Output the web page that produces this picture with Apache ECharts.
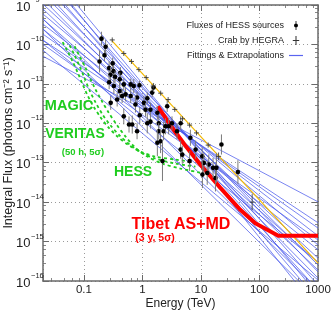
<!DOCTYPE html>
<html><head><meta charset="utf-8">
<script src="https://cdn.jsdelivr.net/npm/echarts@6/dist/echarts.min.js"></script>
<style>html,body{margin:0;padding:0;background:#fff}#c{width:332px;height:312px}</style>
</head><body><div id="c"></div>
<script>
// ---- tick labels ----
const xTickLabels = ['0.1', '1', '10', '100', '1000'];
const yTickExponents = [-16, -15, -14, -13, -12, -11, -10, -9];

// ---- Fluxes of HESS sources (E [TeV], F [cm^-2 s^-1], error factor) ----
const hessE = [0.20, 0.235, 0.225, 0.185, 0.31, 0.27, 0.32, 0.285, 0.34, 0.42, 0.27, 0.41, 0.325, 0.48, 0.63, 0.71, 0.41, 0.515, 0.63, 0.89, 1.47, 1.21, 0.45, 0.81, 0.76, 1.06, 1.55, 1.13, 0.90, 0.67, 0.48, 1.9, 1.9, 2.3, 1.37, 2.65, 2.8, 1.37, 1.21, 1.8, 2.04, 2.48, 3.2, 3.9, 4.5, 2.2, 4.5, 4.8, 6.6, 8.1, 10.5, 11.2, 13.6, 12.8, 17.7, 6.4, 10.6, 16.1, 18.4, 42.8, 22.4, 1.8, 0.59, 0.81, 0.37, 0.287];
const hessF = [1.4e-10, 8.7e-11, 5.3e-11, 3.7e-11, 3.3e-11, 2.5e-11, 2.1e-11, 1.7e-11, 1.5e-11, 1.9e-11, 1.1e-11, 1.3e-11, 8.8e-12, 9.7e-12, 9.7e-12, 8.8e-12, 6.6e-12, 5.4e-12, 4.9e-12, 9.2e-12, 6.0e-12, 4.3e-12, 4.9e-12, 4.5e-12, 3.0e-12, 3.3e-12, 8.1e-12, 2.2e-12, 1.6e-12, 9.3e-13, 1.5e-12, 1.0e-12, 6.3e-13, 6.3e-13, 1.1e-12, 2.7e-12, 8.4e-13, 2.2e-12, 1.0e-12, 1.85e-12, 3.5e-13, 8.4e-13, 1.0e-12, 6.3e-13, 1.0e-12, 1.1e-13, 2.15e-13, 1.6e-13, 4.3e-13, 2.15e-13, 1.45e-13, 9.9e-14, 9.0e-14, 5.5e-14, 4.1e-14, 1.1e-13, 5.0e-14, 7.4e-14, 7.4e-14, 5.8e-14, 2.9e-13, 3.2e-13, 9.3e-13, 6.3e-13, 4.0e-12, 3.3e-12];
const hessErr = [1.5, 1.5, 1.4, 1.9, 1.4, 1.5, 1.4, 1.6, 1.4, 1.4, 1.5, 1.5, 1.6, 1.4, 1.4, 1.5, 1.6, 1.5, 1.5, 1.3, 1.3, 1.4, 1.5, 1.4, 1.6, 1.5, 1.3, 1.5, 1.6, 1.7, 1.6, 1.6, 1.6, 1.7, 1.5, 1.4, 1.6, 1.5, 1.8, 1.5, 2.0, 1.6, 1.5, 1.6, 1.5, 3.2, 1.7, 1.7, 1.6, 1.7, 1.7, 1.8, 1.8, 2.0, 2.2, 1.8, 2.2, 1.8, 2.4, 2.0, 1.8, 2.2, 1.6, 1.6, 1.5, 1.5];

// ---- Crab by HEGRA ----
const crabE = [0.305, 0.48, 0.65, 0.87, 1.16, 1.53, 2.05, 2.75, 3.57, 4.83, 6.4, 8.4, 13.3, 20, 75];
const crabF = [1.3e-10, 5.9e-11, 3.7e-11, 2.3e-11, 1.44e-11, 8.8e-12, 5.8e-12, 4.0e-12, 2.25e-12, 1.3e-12, 9.0e-13, 5.7e-13, 2.8e-13, 1.45e-13, 1.0e-14];
const crabErr = [1.08, 1.08, 1.08, 1.08, 1.08, 1.08, 1.08, 1.08, 1.1, 1.1, 1.1, 1.12, 1.15, 1.25, 1.6];
const crabFitE = [0.3, 1000];
const crabFitF = [1.25e-10, 2.85e-16];

// ---- Fittings & extrapolations: flux at E = 0.02 TeV and at E = 1000 TeV ----
const fitE = [0.02, 1000];
const fitStartF = [5.0e-11, 1.28e-10, 7.1e-11, 1.28e-10, 1.01e-10, 1.82e-10, 2.44e-10, 3.27e-10, 4.4e-10, 5.9e-10, 7.9e-10, 1.05e-9, 1.41e-9, 1.89e-9, 2.54e-9, 3.4e-9, 4.56e-9, 6.1e-9, 8.2e-9, 1.1e-8, 2.44e-10, 4.4e-10];
const fitEndF   = [1.02e-14, 3.0e-15, 1.06e-16, 3.0e-16, 1.1e-15, 2.2e-15, 6.2e-16, 1.4e-15, 3.0e-16, 8.2e-16, 1.9e-16, 3.8e-16, 1.19e-16, 2.55e-16, 5.9e-17, 1.7e-16, 3.3e-17, 7.9e-17, 1.83e-17, 4.4e-17, 3.3e-17, 5.9e-17];

// ---- Sensitivity curves (50 h, 5 sigma) ----
const magicE = [0.0433, 0.0527, 0.0641, 0.078, 0.095, 0.1156, 0.146, 0.193, 0.264, 0.376, 0.557, 0.929, 1.67, 3.67, 6.6];
const magicF = [1.14e-10, 6.7e-11, 3.7e-11, 1.96e-11, 9.7e-12, 5.1e-12, 2.67e-12, 1.41e-12, 7.8e-13, 4.6e-13, 2.9e-13, 1.9e-13, 1.43e-13, 1.2e-13, 1.07e-13];
const veritasE = [0.057, 0.0693, 0.0845, 0.1028, 0.125, 0.158, 0.208, 0.286, 0.407, 0.603, 0.966, 1.67, 3.67, 8.05];
const veritasF = [9.5e-11, 5.3e-11, 2.8e-11, 1.38e-11, 6.8e-12, 3.4e-12, 1.67e-12, 8.8e-13, 4.9e-13, 2.9e-13, 1.8e-13, 1.27e-13, 9.5e-14, 8.0e-14];
const hessSensE = [0.0693, 0.0845, 0.107, 0.13, 0.158, 0.2, 0.264, 0.361, 0.515, 0.762, 1.22, 2.2, 4.47, 9.8];
const hessSensF = [9.0e-11, 5.0e-11, 2.5e-11, 1.3e-11, 7.2e-12, 3.8e-12, 1.88e-12, 9.3e-13, 4.6e-13, 2.4e-13, 1.43e-13, 9.5e-14, 7.1e-14, 5.6e-14];

// ---- Tibet AS+MD sensitivity (3 y, 5 sigma) ----
const tibetE = [1.83, 3.03, 5.43, 9.8, 21.5, 47, 85, 210, 1000];
const tibetF = [2.7e-12, 8.8e-13, 2.7e-13, 8.9e-14, 2.3e-14, 6.4e-15, 2.9e-15, 1.4e-15, 1.4e-15];

const FONT = '"Liberation Sans", Arial, sans-serif';
const GREEN = '#1fcc1f';
const BLUE = 'rgba(70,85,235,0.8)';
const zip = (a, b) => a.map((v, i) => [v, b[i]]);

const series = [];
fitStartF.forEach((s, i) => {
  series.push({
    type: 'line', name: 'Fittings & Extrapolations', data: [[fitE[0], s], [fitE[1], fitEndF[i]]],
    symbol: 'none', clip: true, silent: true, z: 2,
    lineStyle: { color: BLUE, width: 0.9 }, itemStyle: { color: BLUE }
  });
});
[[magicE, magicF], [veritasE, veritasF], [hessSensE, hessSensF]].forEach(([e, f]) => {
  series.push({
    type: 'line', name: 'sens', data: zip(e, f), symbol: 'none', smooth: 0.3, clip: true, silent: true, z: 3,
    lineStyle: { color: GREEN, width: 1.8, type: [3, 3] }
  });
});
series.push({
  type: 'line', name: 'crabfit', data: zip(crabFitE, crabFitF), symbol: 'none', clip: true, silent: true, z: 3,
  lineStyle: { color: '#f2b800', width: 1.2 }
});
series.push({
  type: 'line', name: 'Tibet', data: zip(tibetE, tibetF), symbol: 'none', clip: true, silent: true, z: 4,
  lineStyle: { color: '#ff0000', width: 4, join: 'round', cap: 'butt' }
});
series.push({
  type: 'custom', name: 'Fluxes of HESS sources', clip: true, z: 6, itemStyle: { color: '#000' },
  data: hessE.map((e, i) => [e, hessF[i], hessErr[i]]),
  renderItem: (params, api) => {
    const e = api.value(0), f = api.value(1), k = api.value(2);
    const p = api.coord([e, f]), hi = api.coord([e, f * k]), lo = api.coord([e, f / k]);
    return { type: 'group', children: [
      { type: 'line', shape: { x1: p[0], y1: hi[1], x2: p[0], y2: lo[1] }, style: { stroke: '#7a7a7a', lineWidth: 1 } },
      { type: 'circle', shape: { cx: p[0], cy: p[1], r: 2.3 }, style: { fill: '#000' } }
    ] };
  }
});
series.push({
  type: 'custom', name: 'Crab by HEGRA', clip: true, z: 6, itemStyle: { color: '#222' },
  data: crabE.map((e, i) => [e, crabF[i], crabErr[i]]),
  renderItem: (params, api) => {
    const e = api.value(0), f = api.value(1), k = api.value(2);
    const p = api.coord([e, f]), hi = api.coord([e, f * k]), lo = api.coord([e, f / k]);
    return { type: 'group', children: [
      { type: 'line', shape: { x1: p[0], y1: Math.min(hi[1], p[1] - 2.5), x2: p[0], y2: Math.max(lo[1], p[1] + 2.5) }, style: { stroke: '#444', lineWidth: 0.9 } },
      { type: 'line', shape: { x1: p[0] - 2.5, y1: p[1], x2: p[0] + 2.5, y2: p[1] }, style: { stroke: '#333', lineWidth: 0.9 } }
    ] };
  }
});

const axisCol = '#6a6a6a';
const xBase = {
  type: 'log', logBase: 10, min: 0.02, max: 1000,
  axisLine: { show: true, onZero: false, lineStyle: { color: axisCol, width: 1.5 } },
  axisTick: { show: true, inside: true, length: 6, lineStyle: { color: axisCol, width: 1 } },
  minorTick: { show: true, length: 3, lineStyle: { color: axisCol, width: 0.8 } }
};
const yBase = {
  type: 'log', logBase: 10, min: 1e-16, max: 1e-9,
  axisLine: { show: true, onZero: false, lineStyle: { color: axisCol, width: 1.5 } },
  axisTick: { show: true, inside: true, length: 6, lineStyle: { color: axisCol, width: 1 } },
  minorTick: { show: true, length: 3, lineStyle: { color: axisCol, width: 0.8 } }
};
const gridLine = { show: true, lineStyle: { color: '#9a9a9a', width: 1, type: [1, 3] } };

const option = {
  animation: false,
  backgroundColor: '#fff',
  grid: { left: 43, right: 14, top: 5, bottom: 31, containLabel: false, outerBoundsMode: 'none' },
  xAxis: [
    Object.assign({}, xBase, {
      position: 'bottom', splitLine: gridLine,
      name: 'Energy (TeV)', nameLocation: 'middle', nameGap: 17, nameMoveOverlap: false,
      nameTextStyle: { fontFamily: FONT, fontSize: 12, color: '#222' },
      axisLabel: { margin: 3, fontFamily: FONT, fontSize: 11.5, color: '#222',
        formatter: v => { const e = Math.log10(v), r = Math.round(e); return (Math.abs(e - r) < 1e-6 && r >= -1 && r <= 3) ? xTickLabels[r + 1] : ''; } }
    }),
    Object.assign({}, xBase, { position: 'top', splitLine: { show: false }, axisLabel: { show: false } })
  ],
  yAxis: [
    Object.assign({}, yBase, {
      position: 'left', splitLine: gridLine,
      name: 'Integral Flux (photons cm⁻² s⁻¹)', nameLocation: 'middle', nameGap: 28, nameRotate: 90, nameMoveOverlap: false,
      nameTextStyle: { fontFamily: FONT, fontSize: 12.5, color: '#222' },
      axisLabel: { margin: 27, align: 'left',
        formatter: v => { const e = Math.round(Math.log10(v)); return yTickExponents.includes(e) && Math.abs(Math.log10(v) - e) < 1e-6 ? '{s|' + (e < 0 ? '−' + (-e) : e) + '}\n{b|10}' : ''; },
        rich: {
          s: { fontFamily: FONT, fontSize: 7.5, color: '#222', lineHeight: 4, padding: [0, 0, 0, 15] },
          b: { fontFamily: FONT, fontSize: 13, color: '#222', lineHeight: 10 } } }
    }),
    Object.assign({}, yBase, { position: 'right', splitLine: { show: false }, axisLabel: { show: false } })
  ],
  legend: {
    orient: 'vertical', align: 'right', right: 24, top: 16, itemWidth: 14, itemHeight: 9, itemGap: 6,
    selectedMode: false,
    textStyle: { fontFamily: FONT, fontSize: 9, color: '#222' },
    data: [
      { name: 'Fluxes of HESS sources', icon: 'path://M1.6,0 L2.4,0 L2.4,9 L1.6,9 Z M2,2.5 A2,2 0 1 1 1.99,2.5 Z', itemStyle: { color: '#000' } },
      { name: 'Crab by HEGRA', icon: 'path://M2.1,0 L2.9,0 L2.9,7 L2.1,7 Z M0,3.1 L5,3.1 L5,3.9 L0,3.9 Z', itemStyle: { color: '#333' } },
      { name: 'Fittings & Extrapolations', icon: 'path://M0,0 L14,0 L14,1.2 L0,1.2 Z', itemStyle: { color: '#5a64f0' } }
    ]
  },
  graphic: [
    { type: 'text', x: 69, y: 106, silent: true, z: 10, style: { text: 'MAGIC', fill: GREEN, fontFamily: FONT, fontWeight: 'bold', fontSize: 14.5, align: 'center', verticalAlign: 'middle' } },
    { type: 'text', x: 75, y: 134, silent: true, z: 10, style: { text: 'VERITAS', fill: GREEN, fontFamily: FONT, fontWeight: 'bold', fontSize: 14, align: 'center', verticalAlign: 'middle' } },
    { type: 'text', x: 83, y: 152, silent: true, z: 10, style: { text: '(50 h, 5σ)', fill: GREEN, fontFamily: FONT, fontWeight: 'bold', fontSize: 9.5, align: 'center', verticalAlign: 'middle' } },
    { type: 'text', x: 133, y: 172, silent: true, z: 10, style: { text: 'HESS', fill: GREEN, fontFamily: FONT, fontWeight: 'bold', fontSize: 14, align: 'center', verticalAlign: 'middle' } },
    { type: 'text', x: 181, y: 225, silent: true, z: 10, style: { text: 'Tibet AS+MD', fill: '#ff0000', fontFamily: FONT, fontWeight: 'bold', fontSize: 16, align: 'center', verticalAlign: 'middle' } },
    { type: 'text', x: 155, y: 238, silent: true, z: 10, style: { text: '(3 y, 5σ)', fill: '#ff0000', fontFamily: FONT, fontWeight: 'bold', fontSize: 10.5, align: 'center', verticalAlign: 'middle' } }
  ],
  series: series
};
const chart = echarts.init(document.getElementById('c'), null, { renderer: 'canvas' });
chart.setOption(option);
</script></body></html>
